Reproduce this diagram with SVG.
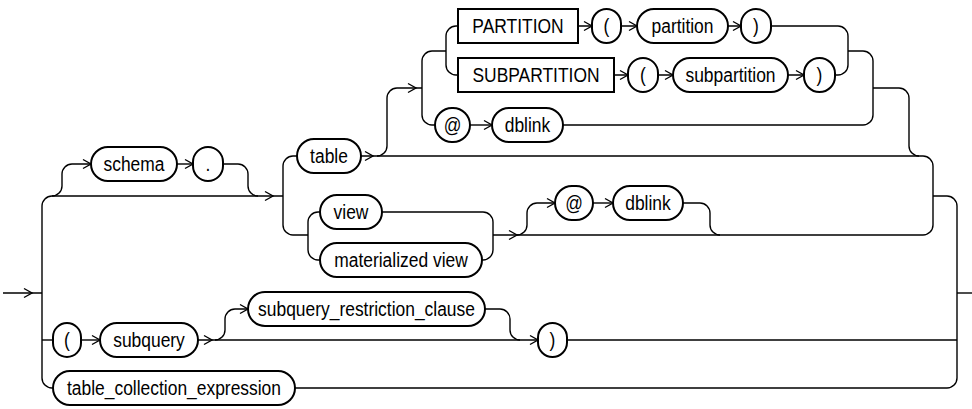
<svg xmlns="http://www.w3.org/2000/svg" width="972" height="409" viewBox="0 0 972 409">
<style>
.n rect{fill:#fff;stroke:#000;stroke-width:2}
.n text{font-family:"Liberation Sans",Arial,sans-serif;font-size:21px;text-anchor:middle;fill:#000}
#connectors path{fill:none;stroke:#000;stroke-width:1.4}
</style>
<defs>
<path id="ah" d="M-8,-4.5 L0,0 L-8,4.5" fill="none" stroke="#000" stroke-width="1.4"/>
</defs>
<rect width="972" height="409" fill="#fff"/>
<g id="connectors">
<path d="M3,293 H42"/>
<path d="M283,196 H52 A10,10 0 0 0 42,206 V378 A10,10 0 0 0 52,388 H53"/>
<path d="M42,340 H53"/>
<path d="M52,196 A10,10 0 0 0 62,186 V174 A10,10 0 0 1 72,164 H91"/>
<path d="M177,164 H193"/>
<path d="M223,164 H238 A10,10 0 0 1 248,174 V186 A10,10 0 0 0 258,196"/>
<path d="M297,156 H293 A10,10 0 0 0 283,166 V225 A10,10 0 0 0 293,235 H308"/>
<path d="M320,212 H318 A10,10 0 0 0 308,222 V250 A10,10 0 0 0 318,260 H320"/>
<path d="M361,156 H923 A10,10 0 0 1 933,166 V225 A10,10 0 0 1 923,235 H493"/>
<path d="M377,156 A10,10 0 0 0 387,146 V98 A10,10 0 0 1 397,88 H422"/>
<path d="M446,51 H432 A10,10 0 0 0 422,61 V115 A10,10 0 0 0 432,125 H435"/>
<path d="M458,26 H456 A10,10 0 0 0 446,36 V65 A10,10 0 0 0 456,75 H458"/>
<path d="M578,26 H592 M621,26 H637 M728,26 H741"/>
<path d="M771,26 H838 A10,10 0 0 1 848,36 V65 A10,10 0 0 1 838,75 H835"/>
<path d="M614,75 H628 M658,75 H673 M788,75 H804"/>
<path d="M470,125 H492"/>
<path d="M563,125 H863 A10,10 0 0 0 873,115 V61 A10,10 0 0 0 863,51 H848"/>
<path d="M873,88 H899 A10,10 0 0 1 909,98 V146 A10,10 0 0 0 919,156"/>
<path d="M933,196 H947 A10,10 0 0 1 957,206 V378 A10,10 0 0 1 947,388 H295"/>
<path d="M957,293 H972"/>
<path d="M567,340 H957"/>
<path d="M382,212 H483 A10,10 0 0 1 493,222 V250 A10,10 0 0 1 483,260 H482"/>
<path d="M517,235 A10,10 0 0 0 527,225 V213 A10,10 0 0 1 537,203 H555"/>
<path d="M593,203 H613"/>
<path d="M683,203 H700 A10,10 0 0 1 710,213 V225 A10,10 0 0 0 720,235"/>
<path d="M81,340 H100"/>
<path d="M198,340 H538"/>
<path d="M215,340 A10,10 0 0 0 225,330 V319 A10,10 0 0 1 235,309 H248"/>
<path d="M485,309 H500 A10,10 0 0 1 510,319 V330 A10,10 0 0 0 520,340"/>
<use href="#ah" x="32" y="293"/>
<use href="#ah" x="91" y="164"/>
<use href="#ah" x="193" y="164"/>
<use href="#ah" x="273" y="196"/>
<use href="#ah" x="373" y="156"/>
<use href="#ah" x="416" y="88"/>
<use href="#ah" x="592" y="26"/>
<use href="#ah" x="637" y="26"/>
<use href="#ah" x="741" y="26"/>
<use href="#ah" x="628" y="75"/>
<use href="#ah" x="673" y="75"/>
<use href="#ah" x="804" y="75"/>
<use href="#ah" x="492" y="125"/>
<use href="#ah" x="517" y="235"/>
<use href="#ah" x="555" y="203"/>
<use href="#ah" x="613" y="203"/>
<use href="#ah" x="100" y="340"/>
<use href="#ah" x="212" y="340"/>
<use href="#ah" x="248" y="309"/>
<use href="#ah" x="538" y="340"/>
</g>
<g id="schema" class="n"><rect x="91" y="147" width="86" height="34" rx="17"/><text transform="matrix(0.83,0,0,1,134,171)">schema</text></g>
<g id="dot" class="n"><rect x="193" y="147" width="30" height="34" rx="15"/><text transform="matrix(0.83,0,0,1,208,171)">.</text></g>
<g id="table" class="n"><rect x="297" y="139" width="64" height="34" rx="17"/><text transform="matrix(0.83,0,0,1,329,163)">table</text></g>
<g id="partition_kw" class="n"><rect x="458" y="9" width="120" height="34"/><text transform="matrix(0.83,0,0,1,518,33)">PARTITION</text></g>
<g id="lparen1" class="n"><rect x="592" y="9" width="29" height="34" rx="14.5"/><text transform="matrix(0.83,0,0,1,606.5,33)">(</text></g>
<g id="partition" class="n"><rect x="637" y="9" width="91" height="34" rx="17"/><text transform="matrix(0.83,0,0,1,682.5,33)">partition</text></g>
<g id="rparen1" class="n"><rect x="741" y="9" width="30" height="34" rx="15"/><text transform="matrix(0.83,0,0,1,756,33)">)</text></g>
<g id="subpartition_kw" class="n"><rect x="458" y="58" width="156" height="34"/><text transform="matrix(0.83,0,0,1,536,82)">SUBPARTITION</text></g>
<g id="lparen2" class="n"><rect x="628" y="58" width="30" height="34" rx="15"/><text transform="matrix(0.83,0,0,1,643,82)">(</text></g>
<g id="subpartition" class="n"><rect x="673" y="58" width="115" height="34" rx="17"/><text transform="matrix(0.83,0,0,1,730.5,82)">subpartition</text></g>
<g id="rparen2" class="n"><rect x="804" y="58" width="31" height="34" rx="15.5"/><text transform="matrix(0.83,0,0,1,819.5,82)">)</text></g>
<g id="at1" class="n"><rect x="435" y="108" width="35" height="34" rx="17"/><text transform="matrix(0.83,0,0,1,452.5,132)">@</text></g>
<g id="dblink1" class="n"><rect x="492" y="108" width="71" height="34" rx="17"/><text transform="matrix(0.83,0,0,1,527.5,132)">dblink</text></g>
<g id="view" class="n"><rect x="320" y="195" width="62" height="34" rx="17"/><text transform="matrix(0.83,0,0,1,351,219)">view</text></g>
<g id="materialized_view" class="n"><rect x="320" y="243" width="162" height="34" rx="17"/><text transform="matrix(0.83,0,0,1,401,267)">materialized view</text></g>
<g id="at2" class="n"><rect x="555" y="186" width="38" height="34" rx="17"/><text transform="matrix(0.83,0,0,1,574,210)">@</text></g>
<g id="dblink2" class="n"><rect x="613" y="186" width="70" height="34" rx="17"/><text transform="matrix(0.83,0,0,1,648,210)">dblink</text></g>
<g id="lparen3" class="n"><rect x="53" y="323" width="28" height="34" rx="14"/><text transform="matrix(0.83,0,0,1,67,347)">(</text></g>
<g id="subquery" class="n"><rect x="100" y="323" width="98" height="34" rx="17"/><text transform="matrix(0.83,0,0,1,149,347)">subquery</text></g>
<g id="subquery_restriction_clause" class="n"><rect x="248" y="292" width="237" height="34" rx="17"/><text transform="matrix(0.83,0,0,1,366.5,316)">subquery_restriction_clause</text></g>
<g id="rparen3" class="n"><rect x="538" y="323" width="29" height="34" rx="14.5"/><text transform="matrix(0.83,0,0,1,552.5,347)">)</text></g>
<g id="table_collection_expression" class="n"><rect x="53" y="371" width="242" height="34" rx="17"/><text transform="matrix(0.83,0,0,1,174,395)">table_collection_expression</text></g>
</svg>
